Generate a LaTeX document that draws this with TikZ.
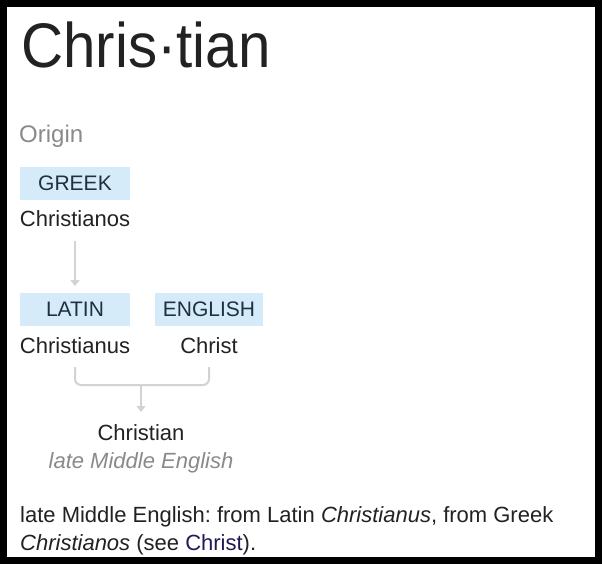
\documentclass[tikz,border=0pt]{standalone}
\usepackage{fontspec}
\setmainfont{Liberation Sans}
\usetikzlibrary{arrows.meta}
\definecolor{txt}{HTML}{222222}
\definecolor{grayt}{HTML}{8A8A8A}
\definecolor{boxblue}{HTML}{D6EBF9}
\definecolor{boxtxt}{HTML}{1F3040}
\definecolor{linkc}{HTML}{1E1A5A}
\definecolor{arrowc}{HTML}{D3D3D3}
\frenchspacing
\begin{document}
\begin{tikzpicture}[x=1pt,y=-1pt,
  langbox/.style={fill=boxblue,minimum width=110pt,minimum height=33pt,inner sep=0pt,text=boxtxt,font=\fontsize{21}{24}\selectfont},
  word/.style={anchor=base,inner sep=0pt,text=txt,font=\fontsize{22}{26}\selectfont},
  para/.style={anchor=base west,inner sep=0pt,text=txt,font=\fontsize{22}{26}\selectfont},
  conn/.style={draw=arrowc,line width=2pt,-{Triangle[width=9pt,length=6pt]}},
  bracket/.style={draw=arrowc,line width=2pt,rounded corners=6pt}]
\useasboundingbox (0,0) rectangle (602,564);
\fill[white] (0,0) rectangle (602,564);
\draw[line width=7pt,black] (3.5,3.5) rectangle (598.5,560.5);
\node[anchor=base west,inner sep=0pt,text=txt,font=\fontsize{63}{70}\selectfont] (title) at (21,68) {\scalebox{0.925}[1]{Chris·tian}};
\node[anchor=base west,inner sep=0pt,text=grayt,font=\fontsize{24}{28}\selectfont] (origin) at (19,143) {Origin};
\node[langbox] (greek) at (75,183.5) {GREEK};
\node[word] (greekw) at (75,226) {Christianos};
\node[langbox] (latin) at (75,309.5) {LATIN};
\node[langbox,minimum width=108pt] (english) at (209,309.5) {ENGLISH};
\node[word] (latinw) at (75,353) {Christianus};
\node[word] (englishw) at (209,353) {Christ};
\node[word] (result) at (141,440) {Christian};
\node[word,text=grayt,font=\fontsize{22}{26}\selectfont\itshape] (resultl) at (141,468) {late Middle English};
\coordinate (ga) at (75,241);
\coordinate (gb) at (75,286);
\draw[conn] (ga) -- (gb);
\coordinate (bl) at (75,367);
\coordinate (br) at (209,367);
\coordinate (bm) at (141,385);
\coordinate (be) at (141,412);
\draw[bracket] (bl) |- (bm) -| (br);
\draw[conn] (bm) -- (be);
\node[para] (p1) at (20,522) {late Middle English: from Latin \textit{Christianus}, from Greek};
\node[para] (p2) at (20,550) {\textit{Christianos} (see \textcolor{linkc}{Christ}).};
\end{tikzpicture}
\end{document}
